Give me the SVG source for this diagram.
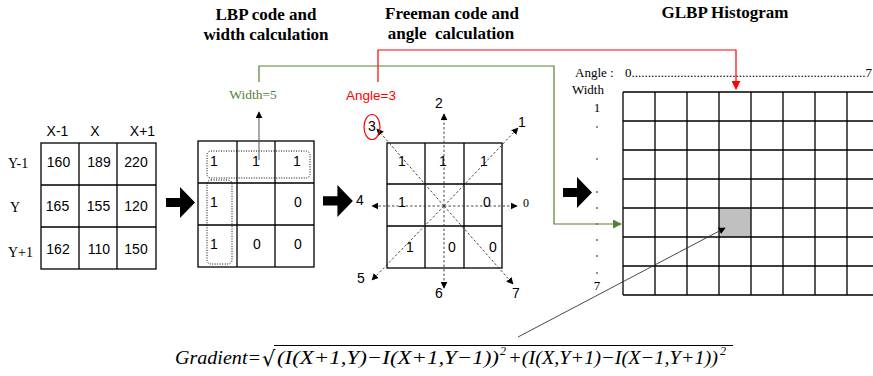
<svg xmlns="http://www.w3.org/2000/svg" width="873" height="376" viewBox="0 0 873 376">
<defs>
<style>
.t{font-family:"Liberation Serif","Times New Roman",serif;font-weight:bold;font-size:17px;fill:#000;text-anchor:middle;white-space:pre}
.s{font-family:"Liberation Sans",Arial,sans-serif;font-size:14px;fill:#000;text-anchor:middle}
.r{font-family:"Liberation Serif","Times New Roman",serif;font-size:14px;fill:#000}
.h{font-family:"Liberation Serif","Times New Roman",serif;font-size:13px;fill:#000}
.g{fill:none;stroke:#000;stroke-width:1.3}
.dot{fill:none;stroke:#000;stroke-width:1;stroke-dasharray:1,1.5}
.ray{stroke:#333;stroke-width:0.9;stroke-dasharray:2.5,2;fill:none}
.blk{fill:#000}
.f{font-family:"Liberation Serif","Times New Roman",serif;font-style:italic;font-size:19px;fill:#000}
.sup{font-family:"Liberation Serif","Times New Roman",serif;font-style:italic;font-size:12px;fill:#000}
</style>
<marker id="ah" viewBox="0 0 10 10" refX="9" refY="5" markerWidth="7" markerHeight="7" markerUnits="userSpaceOnUse" orient="auto"><path d="M0,0L10,5L0,10z" fill="#000"/></marker>
<marker id="ahg" viewBox="0 0 10 10" refX="9" refY="5" markerWidth="9" markerHeight="9" markerUnits="userSpaceOnUse" orient="auto"><path d="M0,0L10,5L0,10z" fill="#548235"/></marker>
<marker id="ahr" viewBox="0 0 10 10" refX="9" refY="5" markerWidth="9" markerHeight="9" markerUnits="userSpaceOnUse" orient="auto"><path d="M0,0L10,5L0,10z" fill="#FF0000"/></marker>
<path id="bigarrow" d="M0,11H14V0L29,15.5L14,31V20H0z"/>
</defs>
<rect width="873" height="376" fill="#fff"/>

<g id="titles">
<text class="t" x="266" y="20">LBP code and</text>
<text class="t" x="266" y="40">width calculation</text>
<text class="t" x="452" y="19">Freeman code and</text>
<text class="t" x="451" y="39">angle  calculation</text>
<text class="t" x="725" y="18">GLBP Histogram</text>
</g>

<g id="pixel-table">
<rect class="g" x="41" y="143" width="115" height="126"/>
<path class="g" d="M79,143V269M117,143V269M41,185H156M41,227H156"/>
<text class="s" x="57.5" y="136">X-1</text>
<text class="s" x="95" y="136">X</text>
<text class="s" x="142.5" y="136">X+1</text>
<text class="r" x="8" y="168">Y-1</text>
<text class="r" x="10" y="212">Y</text>
<text class="r" x="8" y="257">Y+1</text>
<text class="s" x="58.5" y="167">160</text>
<text class="s" x="99" y="167">189</text>
<text class="s" x="136" y="167">220</text>
<text class="s" x="57.5" y="211">165</text>
<text class="s" x="98.5" y="211">155</text>
<text class="s" x="136" y="211">120</text>
<text class="s" x="58" y="254">162</text>
<text class="s" x="99" y="254">110</text>
<text class="s" x="136" y="254">150</text>
</g>

<g id="arrow1"><use href="#bigarrow" class="blk" transform="translate(166,187)"/></g>

<g id="lbp-table">
<rect class="g" x="198" y="141" width="116" height="126"/>
<path class="g" d="M237,141V267M275,141V267M198,183H314M198,225H314"/>
<rect class="dot" x="207" y="151" width="103" height="27" rx="4"/>
<rect class="dot" x="207" y="180" width="25" height="84" rx="4"/>
<text class="s" x="214" y="166">1</text>
<text class="s" x="256" y="166">1</text>
<text class="s" x="297" y="166">1</text>
<text class="s" x="214" y="207">1</text>
<text class="s" x="298" y="207">0</text>
<text class="s" x="214" y="249">1</text>
<text class="s" x="257" y="249">0</text>
<text class="s" x="298" y="249">0</text>
<line x1="259" y1="160" x2="259" y2="112" stroke="#555" stroke-width="1" marker-end="url(#ah)"/>
<text x="253" y="99" text-anchor="middle" font-family="Liberation Serif,Times New Roman,serif" font-size="13.5" fill="#548235">Width=5</text>
</g>

<g id="arrow2"><use href="#bigarrow" class="blk" transform="translate(323,185) scale(1.03,1.03)"/></g>

<g id="freeman">
<rect class="g" x="387" y="143" width="115" height="125"/>
<path class="g" d="M425,143V268M464,143V268M387,184H502M387,226H502"/>
<line class="ray" x1="444" y1="206" x2="517" y2="206" marker-end="url(#ah)"/>
<line class="ray" x1="444" y1="206" x2="518" y2="128" marker-end="url(#ah)"/>
<line class="ray" x1="444" y1="206" x2="444" y2="114" marker-end="url(#ah)"/>
<line class="ray" x1="444" y1="206" x2="377" y2="129" marker-end="url(#ah)"/>
<line class="ray" x1="444" y1="206" x2="372" y2="206" marker-end="url(#ah)"/>
<line class="ray" x1="444" y1="206" x2="372" y2="280" marker-end="url(#ah)"/>
<line class="ray" x1="444" y1="206" x2="444" y2="288" marker-end="url(#ah)"/>
<line class="ray" x1="444" y1="206" x2="513" y2="284" marker-end="url(#ah)"/>
<text class="s" x="402" y="166">1</text>
<text class="s" x="443" y="166">1</text>
<text class="s" x="484" y="166">1</text>
<text class="s" x="402" y="207">1</text>
<text class="s" x="487" y="207">0</text>
<text class="s" x="410" y="252">1</text>
<text class="s" x="452" y="252">0</text>
<text class="s" x="493" y="252">0</text>
<text class="s" x="439" y="108">2</text>
<text class="s" x="522" y="127">1</text>
<text class="s" x="360" y="205">4</text>
<text x="526" y="207" text-anchor="middle" font-family="Liberation Serif,Times New Roman,serif" font-size="12" fill="#000">0</text>
<text class="s" x="361" y="283">5</text>
<text class="s" x="439" y="298">6</text>
<text class="s" x="516" y="298">7</text>
<text class="s" x="372" y="131">3</text>
<ellipse cx="372" cy="127" rx="8" ry="12.5" fill="none" stroke="#FF0000" stroke-width="1.2"/>
<text x="371" y="100" text-anchor="middle" font-family="Liberation Sans,Arial,sans-serif" font-size="13.5" fill="#FF0000">Angle=3</text>
</g>

<g id="arrow3"><use href="#bigarrow" class="blk" transform="translate(563,177)"/></g>

<g id="histogram">
<rect x="719" y="208" width="32" height="29" fill="#C0C0C0"/>
<path class="g" d="M623,92H880M623,121H880M623,150H880M623,179H880M623,208H880M623,237H880M623,266H880M623,295H880M623,92V295M655,92V295M687,92V295M719,92V295M751,92V295M783,92V295M815,92V295M847,92V295"/>
<text class="h" x="575" y="77">Angle :</text>
<text class="h" x="625" y="77" textLength="247" lengthAdjust="spacing">0........................................................................7</text>
<text class="h" x="572" y="94">Width</text>
<text class="h" x="597" y="112" text-anchor="middle">1</text>
<text class="h" x="597" y="290" text-anchor="middle">7</text>
<g fill="#000">
<circle cx="597" cy="127" r="0.8"/>
<circle cx="597" cy="159" r="0.8"/>
<circle cx="597" cy="192" r="0.8"/>
<circle cx="597" cy="208" r="0.8"/>
<circle cx="597" cy="224" r="0.8"/>
<circle cx="597" cy="240" r="0.8"/>
<circle cx="597" cy="256" r="0.8"/>
<circle cx="597" cy="273" r="0.8"/>
</g>
</g>

<g id="connectors">
<polyline points="259,82 259,66 554,66 554,224 621,224" fill="none" stroke="#548235" stroke-width="1.2" marker-end="url(#ahg)"/>
<polyline points="378,82 378,50 736,50 736,89" fill="none" stroke="#FF0000" stroke-width="1.2" marker-end="url(#ahr)"/>
<line x1="518" y1="337" x2="725" y2="228" stroke="#333" stroke-width="0.9" marker-end="url(#ah)"/>
</g>

<g id="formula">
<text class="f" x="175" y="364" textLength="86" lengthAdjust="spacingAndGlyphs">Gradient=</text>
<text x="262" y="366" font-family="DejaVu Serif,serif" font-size="21" fill="#000">√</text>
<line x1="274" y1="345.5" x2="733" y2="345.5" stroke="#000" stroke-width="1"/>
<text class="f" x="277" y="364" textLength="222" lengthAdjust="spacingAndGlyphs">(I(X+1,Y)−I(X+1,Y−1))</text>
<text class="sup" x="500" y="355">2</text>
<text class="f" x="508" y="364" textLength="210" lengthAdjust="spacingAndGlyphs">+(I(X,Y+1)−I(X−1,Y+1))</text>
<text class="sup" x="720" y="355">2</text>
</g>
</svg>
